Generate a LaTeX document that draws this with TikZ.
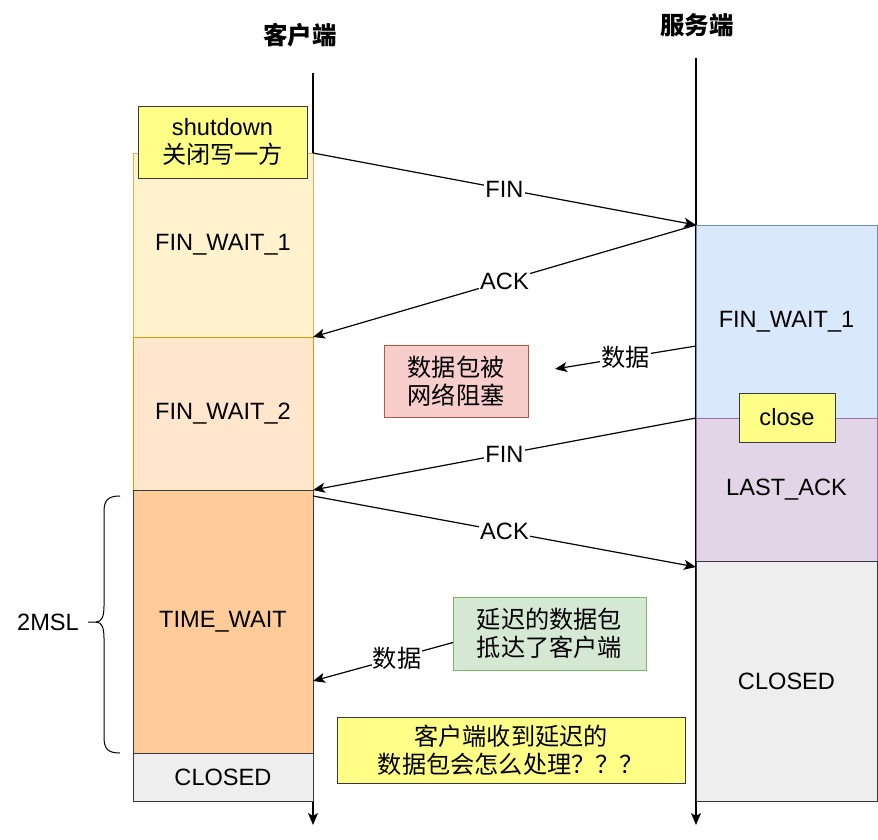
\documentclass[tikz,border=0pt]{standalone}
\usepackage{fontspec}
\setmainfont{Liberation Sans}
\newfontfamily\cjk{Noto Sans CJK SC}
\usetikzlibrary{arrows.meta,calc}
\definecolor{fwAf}{HTML}{FFF2CC}\definecolor{fwAd}{HTML}{D6B656}
\definecolor{fwBf}{HTML}{FFE6CC}\definecolor{fwBd}{HTML}{D79B00}
\definecolor{twf}{HTML}{FFCC99}\definecolor{dk}{HTML}{36393D}
\definecolor{clf}{HTML}{EEEEEE}
\definecolor{sff}{HTML}{DAE8FC}\definecolor{sfd}{HTML}{6C8EBF}
\definecolor{laf}{HTML}{E1D5E7}\definecolor{lad}{HTML}{9673A6}
\definecolor{ntf}{HTML}{FFFF88}
\definecolor{rdf}{HTML}{F8CECC}\definecolor{rdd}{HTML}{B85450}
\definecolor{grf}{HTML}{D5E8D4}\definecolor{grd}{HTML}{82B366}
\newcommand\fs{\fontsize{23.6}{28}\selectfont}
\newcommand\cfs{\cjk\fontsize{24.2}{28}\selectfont}
\tikzset{
  st/.style={draw, line width=1pt, inner sep=0pt, outer sep=0pt, anchor=north west, align=center, font=\fs},
  lbl/.style={fill=white, inner sep=1pt, font=\fs},
  clbl/.style={fill=white, inner sep=1pt, font=\cfs},
  arr/.style={-{Stealth[length=12pt,width=10pt,inset=3pt]}, line width=1.2pt},
  tl/.style={-{Stealth[length=12pt,width=10pt,inset=3pt]}, line width=1.2pt},
  ttl/.style={font=\cjk\bfseries\fontsize{24.5}{28}\selectfont}
}
\begin{document}
\begin{tikzpicture}[x=1pt,y=-1pt]
\useasboundingbox (0,0) rectangle (878,839);
% titles
\node[ttl] (tc) at (300,35) {客户端};
\node[ttl] (ts) at (697,25) {服务端};
% timelines
\coordinate (ctop) at (313,73);
\coordinate (cbot) at (313,825);
\coordinate (stop) at (696,58);
\coordinate (sbot) at (696,825);
\draw[tl] (ctop) -- (cbot);
\draw[tl] (stop) -- (sbot);
% client states
\node[st, fill=fwAf, draw=fwAd, minimum width=180pt, minimum height=184pt] (cfa) at (133,153) {FIN\_WAIT\_1};
\node[st, fill=fwBf, draw=fwBd, minimum width=180pt, minimum height=153pt] (cfb) at (133,337) {FIN\_WAIT\_2};
\node[st, fill=twf, draw=dk, minimum width=180pt, minimum height=263pt] (ctw) at (133,490) {TIME\_WAIT};
\node[st, fill=clf, draw=dk, minimum width=180pt, minimum height=48pt] (ccl) at (133,753) {CLOSED};
% server states
\node[st, fill=sff, draw=sfd, minimum width=181pt, minimum height=193pt] (sfa) at (696,225) {FIN\_WAIT\_1};
\node[st, fill=laf, draw=lad, minimum width=181pt, minimum height=143pt] (sla) at (696,418) {LAST\_ACK};
\node[st, fill=clf, draw=dk, minimum width=181pt, minimum height=240pt] (scl) at (696,561) {CLOSED};
% notes
\node[st, fill=ntf, draw=dk, minimum width=169pt, minimum height=72pt] (shut) at (138,106) {shutdown\\{\cfs 关闭写一方}};
\node[st, fill=ntf, draw=dk, minimum width=96pt, minimum height=49pt] (close) at (739,393) {close};
\node[st, fill=rdf, draw=rdd, minimum width=144pt, minimum height=72pt, font=\cfs] (blk) at (384,345) {数据包被\\网络阻塞};
\node[st, fill=grf, draw=grd, minimum width=193pt, minimum height=73pt, font=\cfs] (late) at (453,597) {延迟的数据包\\抵达了客户端};
\node[st, fill=ntf, draw=dk, minimum width=348pt, minimum height=66pt, font=\cfs] (q) at (337,717) {客户端收到延迟的\\数据包会怎么处理？？？};
% messages
\draw[arr] (cfa.north east) -- node[lbl] {FIN} (sfa.north west);
\draw[arr] (sfa.north west) -- node[lbl] {ACK} (cfa.south east);
\coordinate (dAs) at (696,346);
\coordinate (dAe) at (555,369);
\draw[arr] (dAs) -- node[clbl] {数据} (dAe);
\draw[arr] (sfa.south west) -- node[lbl] {FIN} (ctw.north east);
\draw[arr] ([yshift=-6pt]ctw.north east) -- node[lbl] {ACK} ([yshift=-6pt]scl.north west);
\coordinate (dBe) at (313,681);
\draw[arr] ([yshift=-9pt]late.west) -- node[clbl, pos=0.4] {数据} (dBe);
% brace
\draw[line width=1pt] (120,496) .. controls (108,496) and (104,500) .. (104,512) -- (104,606)
  .. controls (104,616) and (102,622) .. (96,622) -- (88,622);
\draw[line width=1pt] (96,622) .. controls (102,622) and (104,628) .. (104,638) -- (104,737)
  .. controls (104,749) and (108,753) .. (120,753);
\node[font=\fs] (msl) at (48,622) {2MSL};
\end{tikzpicture}
\end{document}
